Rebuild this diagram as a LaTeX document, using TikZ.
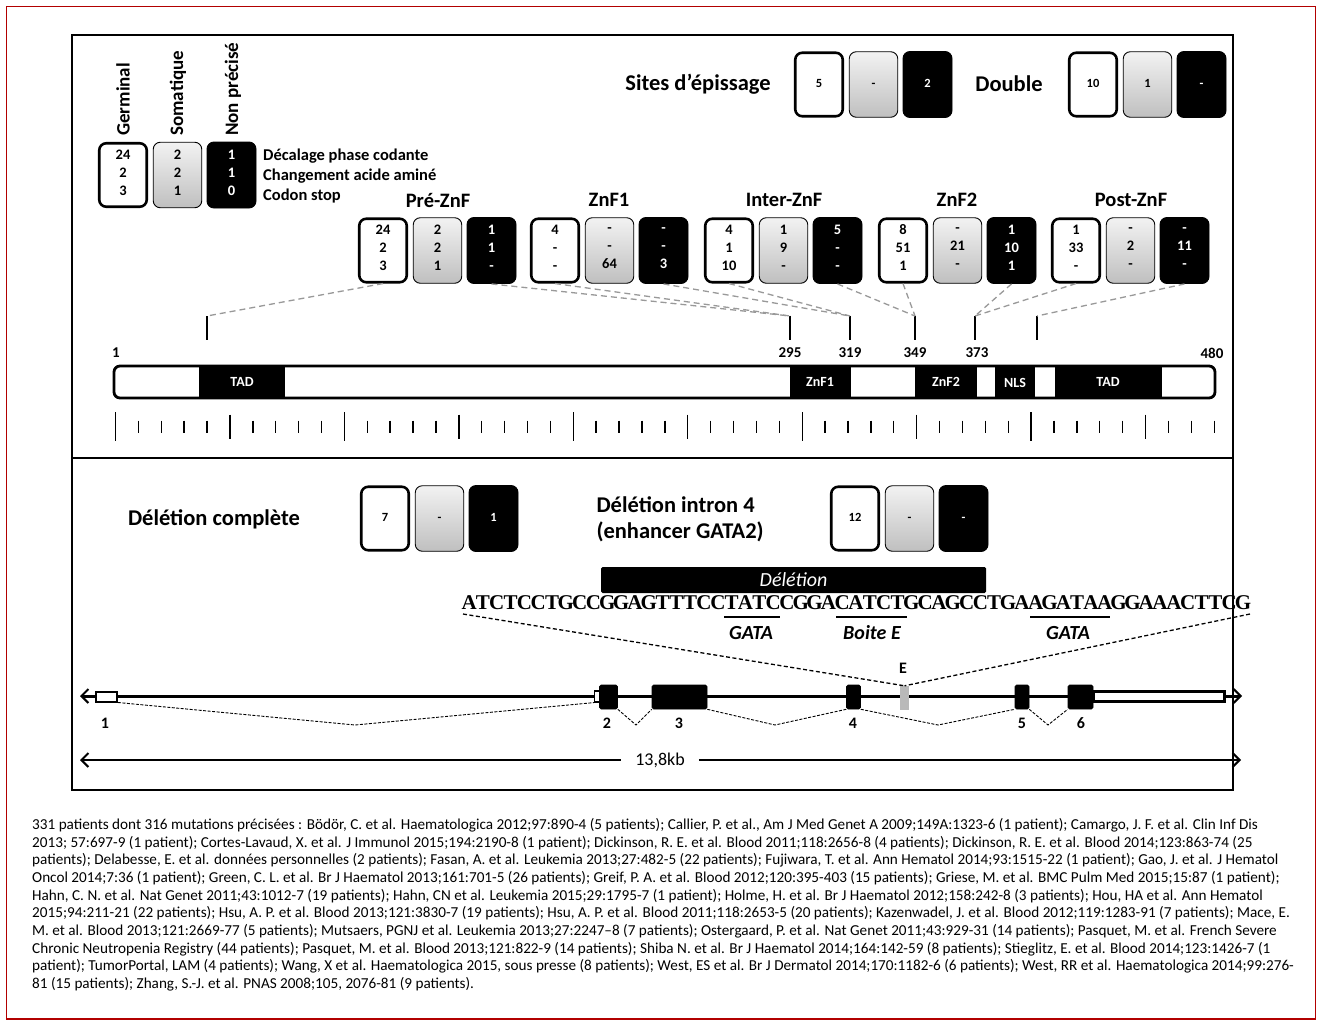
\documentclass[tikz,border=0pt]{standalone}
\usepackage{fontspec}
\setmainfont{Carlito}
\newfontfamily\seqfont{Liberation Serif}
\usetikzlibrary{arrows.meta}
\newcommand\seqbox[1]{\makebox[13.82pt]{#1}}
\def\seqrun#1{\ifx#1\relax\else\seqbox{#1}\expandafter\seqrun\fi}
\newcommand\mytrio[7][]{%
  \node[germbox,#1] (#2g) at (#3,#4) {#5};
  \node[somabox,#1] (#2s) at (#3+54.5,#4) {#6};
  \node[noncbox,#1] (#2n) at (#3+108.5,#4) {#7};
}
\begin{document}
\begin{tikzpicture}[x=1pt,y=-1pt,
  gtip/.tip={Straight Barb[length=7pt,width=14pt,line width=2pt]},
  numfont/.style={font=\bfseries\fontsize{14.5}{18}\selectfont},
  smallnum/.style={font=\bfseries\fontsize{12.5}{14}\selectfont},
  boxbase/.style={inner sep=0pt,align=center,numfont,rounded corners=7pt,
    execute at begin node=\strut, execute at end node=\strut},
  germbox/.style={boxbase,draw=black,line width=2.6pt,fill=white,minimum width=47.5pt,minimum height=63.5pt},
  somabox/.style={boxbase,draw=black,line width=0.9pt,top color=gray!10,bottom color=gray!50,minimum width=48.5pt,minimum height=65.5pt},
  noncbox/.style={boxbase,draw=black,line width=0.9pt,fill=black,text=white,minimum width=49pt,minimum height=66pt},
  title/.style={font=\bfseries\fontsize{22.5}{26}\selectfont},
  domtitle/.style={font=\bfseries\fontsize{20.5}{24}\selectfont},
  leglab/.style={anchor=west,inner sep=0pt,font=\bfseries\fontsize{16.5}{20}\selectfont},
  colhead/.style={rotate=90,anchor=west,inner sep=0pt,font=\bfseries\fontsize{19}{20}\selectfont},
  poslab/.style={inner sep=0pt,font=\bfseries\fontsize{15}{18}\selectfont},
  seglab/.style={inner sep=0pt,text=white,font=\bfseries\fontsize{14}{16}\selectfont},
  link/.style={draw=gray!80,dash pattern=on 6pt off 4pt,line width=1.3pt},
  marker/.style={draw=black,line width=1.3pt},
  splice/.style={draw=black,line width=0.9pt,dash pattern=on 3pt off 1.5pt},
  exon/.style={fill=black,draw=black,line width=0.6pt,inner sep=0pt,rounded corners=1.5pt},
  exlab/.style={inner sep=0pt,font=\bfseries\fontsize{16}{18}\selectfont}
]
\useasboundingbox (0,0) rectangle (1321,1022);
\fill[white] (0,0) rectangle (1321,1022);
% outer red frame and inner frame
\draw[red!70!black,line width=1.5pt] (6.5,6.5) rectangle (1315.5,1019);
\draw[black,line width=1.6pt] (72,35) rectangle (1233,790);
\draw[black,line width=1.6pt] (72,458) -- (1233,458);

% ---------- legend ----------
\node[colhead] (hg) at (123,136) {Germinal};
\node[colhead] (hs) at (178,136) {Somatique};
\node[colhead] (hn) at (233,136) {Non précisé};
\mytrio{lg}{123}{175}{24\\2\\3}{2\\2\\1}{1\\1\\0}
\node[leglab] (l1) at (263,156) {Décalage phase codante};
\node[leglab] (l2) at (263,176) {Changement acide aminé};
\node[leglab] (l3) at (263,196) {Codon stop};

% ---------- splice / double ----------
\node[title] (tsites) at (698,84) {Sites d’épissage};
\mytrio[smallnum]{sd}{819}{84.5}{5}{-}{2}
\node[title] (tdouble) at (1009,84) {Double};
\mytrio[smallnum]{db}{1093}{84.5}{10}{1}{-}

% ---------- domain groups ----------
\node[domtitle] (tpz) at (438,200) {Pré-ZnF};
\mytrio{pz}{383}{250.5}{24\\2\\3}{2\\2\\1}{1\\1\\-}
\node[domtitle] (tz1) at (609,200) {ZnF1};
\mytrio{zo}{555}{250.5}{4\\-\\-}{-\\-\\64}{-\\-\\3}
\node[domtitle] (tiz) at (784,200) {Inter-ZnF};
\mytrio{iz}{729}{250.5}{4\\1\\10}{1\\9\\-}{5\\-\\-}
\node[domtitle] (tz2) at (957,200) {ZnF2};
\mytrio{zt}{903}{250.5}{8\\51\\1}{-\\21\\-}{1\\10\\1}
\node[domtitle] (tpo) at (1131,200) {Post-ZnF};
\mytrio{po}{1076}{250.5}{1\\33\\-}{-\\2\\-}{-\\11\\-}

% ---------- markers above protein ----------
\coordinate (m1) at (207,316);
\coordinate (m2) at (790,316);
\coordinate (m3) at (850,316);
\coordinate (m4) at (915,316);
\coordinate (m5) at (975,316);
\coordinate (m6) at (1037,316);
\foreach \m in {m1,m2,m3,m4,m5,m6} \draw[marker] (\m) -- ++(0,24);
\draw[link] (pzg.south) -- (m1);
\draw[link] (pzn.south) -- (m2);
\draw[link] (zog.south) -- (m2);
\draw[link] (zon.south) -- (m3);
\draw[link] (izg.south) -- (m3);
\draw[link] (izn.south) -- (m4);
\draw[link] (ztg.south) -- (m4);
\draw[link] (ztn.south) -- (m5);
\draw[link] (pog.south) -- (m5);
\draw[link] (pon.south) -- (m6);

% ---------- protein bar ----------
\fill[white,rounded corners=6pt] (114,366) rectangle (1215,398);
\fill[black] (199,366) rectangle (285,398);
\fill[black] (790,366) rectangle (851,398);
\fill[black] (915,366) rectangle (977,398);
\fill[black] (995,366) rectangle (1035,398);
\fill[black] (1055,366) rectangle (1162,398);
\draw[black,line width=2.8pt,rounded corners=6pt] (114,366) rectangle (1215,398);
\node[seglab] (stad1) at (242,382) {TAD};
\node[seglab] (szf1) at (820,382) {ZnF1};
\node[seglab] (szf2) at (946,382) {ZnF2};
\node[seglab] (snls) at (1015,383) {NLS};
\node[seglab] (stad2) at (1108,382) {TAD};
\node[poslab] (p1) at (116,353) {1};
\node[poslab] (p295) at (790,353) {295};
\node[poslab] (p319) at (850,353) {319};
\node[poslab] (p349) at (915,353) {349};
\node[poslab] (p373) at (977,353) {373};
\node[poslab] (p480) at (1212,353) {480};
% scale ticks
\foreach \i in {0,...,48}{
  \pgfmathsetmacro\len{mod(\i,10)==0 ? 29 : (mod(\i,5)==0 ? 24 : 12)}
  \pgfmathsetmacro\xx{115.5+\i*22.89}
  \draw[black,line width=1.4pt] (\xx,426.5-\len/2) -- (\xx,426.5+\len/2);
}

% ---------- deletions ----------
\node[title] (tdc) at (214,519) {Délétion complète};
\mytrio[smallnum]{dc}{385}{518.5}{7}{-}{1}
\node[title,anchor=west,align=left,font=\bfseries\fontsize{22.5}{26}\selectfont] (tdi) at (593,519) {Délétion intron 4\\(enhancer GATA2)};
\mytrio[smallnum]{di}{855}{518.5}{12}{-}{-}

% ---------- sequence ----------
\node[fill=black,rounded corners=1.5pt,minimum width=385pt,minimum height=26pt,inner sep=0pt,text=white,font=\itshape\fontsize{20}{22}\selectfont] (del) at (793.5,580) {Délétion};
\node[anchor=west,inner sep=0pt,font=\seqfont\bfseries\fontsize{21}{21}\selectfont] (seq) at (462,603) {\seqrun ATCTCCTGCCGGAGTTTCCTATCCGGACATCTGCAGCCTGAAGATAAGGAAACTTCG\relax};
\draw[black,line width=2.6pt] (724,617) -- (780,617);
\draw[black,line width=2.6pt] (836,617) -- (907,617);
\draw[black,line width=2.6pt] (1030,617) -- (1110,617);
\node[inner sep=0pt,font=\bfseries\itshape\fontsize{20}{22}\selectfont] (g1) at (751,633) {GATA};
\node[inner sep=0pt,font=\bfseries\itshape\fontsize{20}{22}\selectfont] (be) at (872,633) {Boite E};
\node[inner sep=0pt,font=\bfseries\itshape\fontsize{20}{22}\selectfont] (g2) at (1068,633) {GATA};

% ---------- gene ----------
\draw[black,line width=3pt,gtip-gtip] (80,696) -- (1242,696);
\node[draw=black,fill=white,line width=2pt,minimum width=21pt,minimum height=10pt,inner sep=0pt] (ex1) at (106.5,696.5) {};
\node[draw=black,fill=white,line width=1.2pt,minimum width=5pt,minimum height=11pt,inner sep=0pt] (ex2a) at (597,696.5) {};
\node[exon,minimum width=18pt,minimum height=24pt] (ex2) at (608.5,697) {};
\node[exon,minimum width=55pt,minimum height=24pt] (ex3) at (679.5,697) {};
\node[exon,minimum width=14pt,minimum height=24pt] (ex4) at (853.5,697) {};
\node[fill=gray!55,inner sep=0pt,minimum width=9pt,minimum height=24pt] (exE) at (904.5,698) {};
\node[exon,minimum width=14pt,minimum height=24pt] (ex5) at (1022,697) {};
\node[exon,minimum width=25pt,minimum height=24pt] (ex6) at (1080.5,697) {};
\node[draw=black,fill=white,line width=2.2pt,minimum width=131pt,minimum height=10pt,inner sep=0pt] (ex6u) at (1159,696.5) {};
\draw[splice] (ex1.south east) -- (355,725) -- (ex2a.south west);
\draw[splice] (ex2.south east) -- (636,725) -- (ex3.south west);
\draw[splice] (ex3.south east) -- (775,725) -- (ex4.south west);
\draw[splice] (ex4.south east) -- (938,725) -- (ex5.south west);
\draw[splice] (ex5.south east) -- (1048,725) -- (ex6.south west);
\coordinate (seqL) at (463,614);
\coordinate (seqR) at (1250,614);
\draw[black,line width=1.3pt,dash pattern=on 4pt off 2.5pt] (seqL) -- (exE.north);
\draw[black,line width=1.3pt,dash pattern=on 4pt off 2.5pt] (seqR) -- (exE.north);
\node[exlab] (le) at (903,668) {E};
\node[exlab] (l1x) at (105,723) {1};
\node[exlab] (l2x) at (607,723) {2};
\node[exlab] (l3x) at (679,723) {3};
\node[exlab] (l4x) at (853,723) {4};
\node[exlab] (l5x) at (1022,723) {5};
\node[exlab] (l6x) at (1081,723) {6};

% ---------- size arrow ----------
\node[inner sep=0pt,font=\fontsize{18}{20}\selectfont] (kb) at (660,760) {13,8kb};
\coordinate (kbL) at (80,760);
\coordinate (kbR) at (1241,760);
\draw[black,line width=2.6pt,gtip-] (kbL) -- ([xshift=-14pt]kb.west);
\draw[black,line width=2.6pt,-gtip] ([xshift=14pt]kb.east) -- (kbR);

% ---------- references ----------
\node[anchor=north west,inner sep=0pt,align=left,font=\fontsize{15.2}{17.7}\selectfont] (refs) at (32,818) {331 patients dont 316 mutations précisées : Bödör, C. et al. Haematologica 2012;97:890-4 (5 patients); Callier, P. et al., Am J Med Genet A 2009;149A:1323-6 (1 patient); Camargo, J. F. et al. Clin Inf Dis\\
2013; 57:697-9 (1 patient); Cortes-Lavaud, X. et al. J Immunol 2015;194:2190-8 (1 patient); Dickinson, R. E. et al. Blood 2011;118:2656-8 (4 patients); Dickinson, R. E. et al. Blood 2014;123:863-74 (25\\
patients); Delabesse, E. et al. données personnelles (2 patients); Fasan, A. et al. Leukemia 2013;27:482-5 (22 patients); Fujiwara, T. et al. Ann Hematol 2014;93:1515-22 (1 patient); Gao, J. et al. J Hematol\\
Oncol 2014;7:36 (1 patient); Green, C. L. et al. Br J Haematol 2013;161:701-5 (26 patients); Greif, P. A. et al. Blood 2012;120:395-403 (15 patients); Griese, M. et al. BMC Pulm Med 2015;15:87 (1 patient);\\
Hahn, C. N. et al. Nat Genet 2011;43:1012-7 (19 patients); Hahn, CN et al. Leukemia 2015;29:1795-7 (1 patient); Holme, H. et al. Br J Haematol 2012;158:242-8 (3 patients); Hou, HA et al. Ann Hematol\\
2015;94:211-21 (22 patients); Hsu, A. P. et al. Blood 2013;121:3830-7 (19 patients); Hsu, A. P. et al. Blood 2011;118:2653-5 (20 patients); Kazenwadel, J. et al. Blood 2012;119:1283-91 (7 patients); Mace, E.\\
M. et al. Blood 2013;121:2669-77 (5 patients); Mutsaers, PGNJ et al. Leukemia 2013;27:2247–8 (7 patients); Ostergaard, P. et al. Nat Genet 2011;43:929-31 (14 patients); Pasquet, M. et al. French Severe\\
Chronic Neutropenia Registry (44 patients); Pasquet, M. et al. Blood 2013;121:822-9 (14 patients); Shiba N. et al. Br J Haematol 2014;164:142-59 (8 patients); Stieglitz, E. et al. Blood 2014;123:1426-7 (1\\
patient); TumorPortal, LAM (4 patients); Wang, X et al. Haematologica 2015, sous presse (8 patients); West, ES et al. Br J Dermatol 2014;170:1182-6 (6 patients); West, RR et al. Haematologica 2014;99:276-\\
81 (15 patients); Zhang, S.-J. et al. PNAS 2008;105, 2076-81 (9 patients).};
\end{tikzpicture}
\end{document}
